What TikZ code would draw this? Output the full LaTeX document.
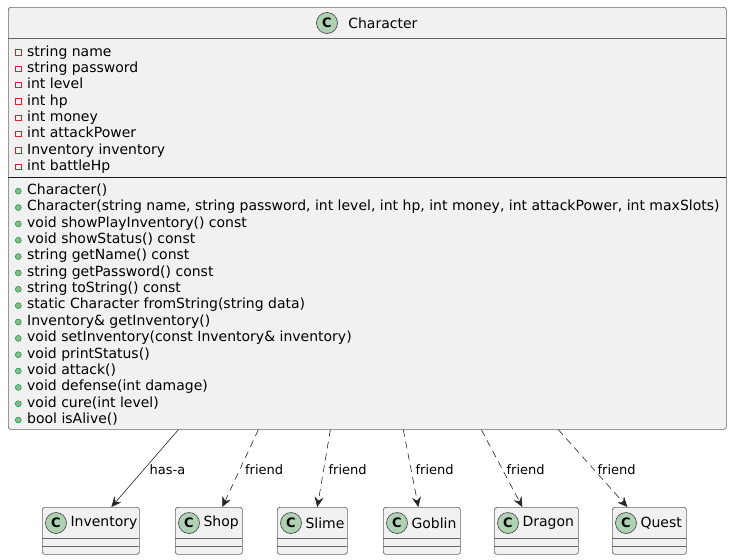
\documentclass[tikz,border=0pt]{standalone}
\usepackage{fontspec}
\setmainfont{DejaVu Sans}
\usetikzlibrary{arrows.meta, positioning}

\definecolor{umlfill}{HTML}{F1F1F1}
\definecolor{iconfill}{HTML}{ADD1B2}
\definecolor{privred}{HTML}{C82930}
\definecolor{pubgreen}{HTML}{84BE84}
\definecolor{pubdark}{HTML}{038048}

\begin{document}
\begin{tikzpicture}[x=1pt, y=-1pt,
            every node/.style={font=\fontsize{14pt}{16pt}\selectfont},
            classbox/.style={draw=black!60, fill=umlfill, rounded corners=2.5pt, line width=0.7pt, inner sep=0pt},
            cicon/.style={circle, draw=black!75, fill=iconfill, inner sep=0pt, minimum size=21pt, line width=0.6pt, font=\bfseries\fontsize{13pt}{13pt}\selectfont},
            member/.style={anchor=base west, inner sep=0pt},
            priv/.style={draw=privred, line width=0.6pt},
            pub/.style={fill=pubgreen, draw=pubdark, line width=0.4pt},
            has/.style={-{Stealth[length=10pt,width=9pt,inset=3.5pt]}, draw=black!85, line width=0.6pt},
            friend/.style={has, dash pattern=on 7pt off 5pt},
            lbl/.style={anchor=west, inner sep=2pt, xshift=2.5pt, yshift=-1pt, font=\fontsize{13pt}{15pt}\selectfont}]
        \useasboundingbox[fill=white] (0,0) rectangle (732,560);

        % Character
        \node[classbox, anchor=north west, minimum width=718pt, minimum height=422pt] (character) at (8,7) {};
        \node[cicon] (charicon) at (327,23) {C};
        \node[right=7pt of charicon] (chartitle) {Character};
        \draw[black!60, line width=0.7pt] (8,38) -- (726,38);
        \draw[black!90, line width=0.8pt] (8,177.5) -- (726,177.5);

        \foreach \txt [count=\i, evaluate=\i as \yy using 39.65+16.35*\i] in
            {string name, string password, int level, int hp, int money,
             int attackPower, Inventory inventory, int battleHp} {
            \node[member] (attr\i) at (27,\yy) {\txt};
            \draw[priv] (15.5,\yy-6.5) rectangle (21.5,\yy-1);
        }
        \foreach \txt [count=\i, evaluate=\i as \yy using 178.15+16.35*\i] in
            {{Character()},
             {Character(string name, string password, int level, int hp, int money, int attackPower, int maxSlots)},
             {void showPlayInventory() const}, {void showStatus() const},
             {string getName() const}, {string getPassword() const},
             {string toString() const}, {static Character fromString(string data)},
             {Inventory\& getInventory()}, {void setInventory(const Inventory\& inventory)},
             {void printStatus()}, {void attack()}, {void defense(int damage)},
             {void cure(int level)}, {bool isAlive()}} {
            \node[member] (meth\i) at (27,\yy) {\txt};
            \draw[pub] (18.3,\yy-3.3) circle (3pt);
        }

        % the other classes
        \foreach \name/\lab/\xa/\bw in {inventory/Inventory/42/97, shop/Shop/175/67,
                slime/Slime/277/70, goblin/Goblin/383/77, dragon/Dragon/494/84, quest/Quest/612/74} {
            \node[classbox, anchor=north west, minimum width=\bw pt, minimum height=47pt] (\name) at (\xa,507) {};
            \node[cicon] (\name icon) at (\xa+14,523) {C};
            \node[right=2.5pt of \name icon, inner sep=1pt] (\name title) {\lab};
            \draw[black!60, line width=0.6pt] (\xa,538) -- (\xa+\bw,538);
            \draw[black!60, line width=0.6pt] (\xa,546) -- (\xa+\bw,546);
        }

        \draw[has] ([xshift=-189pt]character.south) -- node[lbl] {has-a} ([xshift=20.5pt]inventory.north);
        \foreach \to/\sa/\sb in {shop/-109/13.5, slime/-37/5, goblin/36/-3.5, dragon/114/-14, quest/191/-22}
            \draw[friend] ([xshift=\sa pt]character.south) -- node[lbl] {friend} ([xshift=\sb pt]\to.north);
    \end{tikzpicture}
\end{document}
